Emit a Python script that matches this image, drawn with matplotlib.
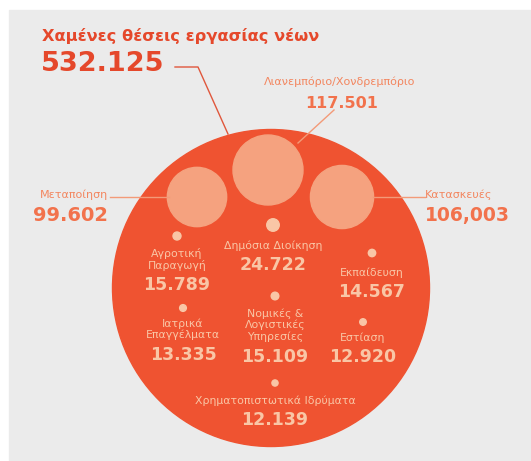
import matplotlib.pyplot as plt
from matplotlib.patches import Circle, Rectangle

# data
title = "Χαμένες θέσεις εργασίας νέων"
total = 532125
total_label = "532.125"

big_names = ["Λιανεμπόριο/Χονδρεμπόριο", "Μεταποίηση", "Κατασκευές"]
big_values = [117501, 99602, 106003]
big_labels = ["117.501", "99.602", "106,003"]

small_names = ["Δημόσια Διοίκηση", "Αγροτική\nΠαραγωγή", "Εκπαίδευση",
               "Ιατρικά\nΕπαγγέλματα", "Νομικές &\nΛογιστικές\nΥπηρεσίες",
               "Εστίαση", "Χρηματοπιστωτικά Ιδρύματα"]
small_values = [24722, 15789, 14567, 13335, 15109, 12920, 12139]
small_labels = ["24.722", "15.789", "14.567", "13.335", "15.109", "12.920", "12.139"]

# layout (pixel coords of the 531x461 picture)
scale = 35 / 117501          # radius in px per unit
main_center = (271, 288)
big_centers = [(268, 170), (197, 197), (342, 197)]
small_centers = [(273, 225), (177, 236), (372, 253), (183, 308),
                 (275, 296), (363, 322), (275, 383)]
# where the text block (name top) starts under each dot
small_text_y = [245, 253, 272, 323, 313, 337, 400]

RED = "#ef5331"
PALE = "#f5a27f"
INNER_TXT = "#f9c6a6"
OUT_TXT = "#f3865f"
OUT_NUM = "#f2724c"
TITLE_C = "#e5482b"

fig = plt.figure(figsize=(5.31, 4.61), dpi=100)
ax = fig.add_axes([0, 0, 1, 1])
ax.set_xlim(0, 531)
ax.set_ylim(461, 0)
ax.axis("off")

ax.add_patch(Rectangle((9, 10), 531, 461, color="#ebebeb", zorder=0))

# main circle
ax.add_patch(Circle(main_center, total * scale, color=RED, zorder=1))

for (cx, cy), v in zip(big_centers, big_values):
    ax.add_patch(Circle((cx, cy), v * scale, color=PALE, zorder=2))

for (cx, cy), v in zip(small_centers, small_values):
    ax.add_patch(Circle((cx, cy), v * scale * 0.85, color=INNER_TXT, zorder=2))

# title and total
ax.text(42, 36, title, fontsize=11.7, fontweight="bold", color=TITLE_C,
        ha="left", va="center")
ax.text(41, 64, total_label, fontsize=19.5, fontweight="bold", color=TITLE_C,
        ha="left", va="center")
ax.plot([175, 198, 228], [67, 67, 134], color="#e0573c", lw=1, zorder=3)

# big bubble labels
ax.text(340, 82, big_names[0], fontsize=8, color=OUT_TXT, ha="center", va="center")
ax.text(342, 103, big_labels[0], fontsize=11.5, fontweight="bold", color=OUT_NUM,
        ha="center", va="center")
ax.plot([334, 298], [110, 143], color="#f39a78", lw=1, zorder=3)

ax.text(74, 195, big_names[1], fontsize=8, color=OUT_TXT, ha="center", va="center")
ax.text(71, 215, big_labels[1], fontsize=14, fontweight="bold", color=OUT_NUM,
        ha="center", va="center")
ax.plot([110, 169], [197, 197], color="#f39a78", lw=1, zorder=3)

ax.text(459, 195, big_names[2], fontsize=8, color=OUT_TXT, ha="center", va="center")
ax.text(467, 215, big_labels[2], fontsize=13.5, fontweight="bold", color=OUT_NUM,
        ha="center", va="center")
ax.plot([373, 425], [197, 197], color="#f39a78", lw=1, zorder=3)

# small bubble labels
for (cx, cy), name, lab, ty in zip(small_centers, small_names, small_labels, small_text_y):
    n_lines = name.count("\n") + 1
    ax.text(cx, ty - 5, name, fontsize=7.8, color=INNER_TXT, ha="center", va="top",
            linespacing=1.15, zorder=3)
    ax.text(cx, ty + n_lines * 12 + 8, lab, fontsize=12.5, fontweight="bold",
            color=INNER_TXT, ha="center", va="center", zorder=3)

fig.savefig("out.png", dpi=100)
